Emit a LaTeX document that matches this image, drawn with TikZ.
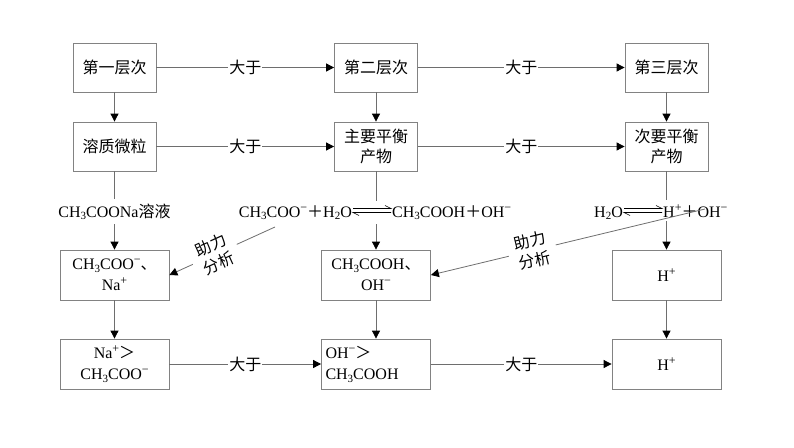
\documentclass[tikz,border=0pt]{standalone}
\usepackage{fontspec}
\setmainfont{Liberation Serif}
\newfontfamily\cjk{Noto Sans CJK SC}
\usetikzlibrary{arrows.meta}
\definecolor{lgray}{RGB}{110,110,110}
\definecolor{bgray}{RGB}{130,130,130}
\newcommand\ssup[1]{\raisebox{0.8ex}{\fontsize{12}{12}\selectfont #1}}
\newcommand\ssub[1]{\raisebox{-0.4ex}{\fontsize{11}{11}\selectfont #1}}
\newcommand\zh[1]{{\cjk #1}}
\newcommand\mns{\ssup{−}}
\newcommand\pls{\ssup{+}}
\begin{document}
\begin{tikzpicture}[x=1pt,y=-1pt,
  font=\fontsize{16}{21}\selectfont,
  line/.style={draw=lgray, line width=0.8pt},
  arr/.style={line, -{Triangle[length=8pt,width=8pt,color=black,fill=black]}},
  harp/.style={draw=black, line width=0.6pt},
  box/.style={draw=bgray, line width=0.8pt, minimum width=83pt, minimum height=49pt, align=center, inner sep=2pt},
  wbox/.style={box, minimum width=109pt, minimum height=50pt},
  lbl/.style={fill=white, inner xsep=1pt, inner ysep=1pt},
  lbltwo/.style={fill=white, align=center, inner xsep=8pt, inner ysep=0pt, font=\fontsize{16}{20}\selectfont},
  txt/.style={inner xsep=0pt, inner ysep=4pt},
]
\useasboundingbox (0,0) rectangle (794,447);

% row 1 and 2
\node[box] (a1) at (114.5,67.5) {\zh{第一层次}};
\node[box] (b1) at (376,67.5) {\zh{第二层次}};
\node[box] (c1) at (666.5,67.5) {\zh{第三层次}};
\node[box] (a2) at (114.5,146.5) {\zh{溶质微粒}};
\node[box] (b2) at (376,146.5) {\zh{主要平衡}\\[-1pt]\zh{产物}};
\node[box] (c2) at (666.5,146.5) {\zh{次要平衡}\\[-1pt]\zh{产物}};

% equation row
\node[txt, anchor=base] (a3) at (114.5,217) {CH\ssub{3}COONa\zh{溶液}};
\node[txt, anchor=base east] (b3l) at (352,217) {CH\ssub{3}COO\mns\zh{＋}H\ssub{2}O};
\node[txt, anchor=base west] (b3r) at (392,217) {CH\ssub{3}COOH\zh{＋}OH\mns};
\node[txt, anchor=base east] (c3l) at (623,217) {H\ssub{2}O};
\node[txt, anchor=base west] (c3r) at (663,217) {H\pls\zh{＋}OH\mns};

% equilibrium harpoons
\draw[harp] ([xshift=1pt,yshift=8.5pt]b3l.base east) -- ([xshift=-1pt,yshift=8.5pt]b3r.base west) -- ++(-6,-3);
\draw[harp] ([xshift=-1pt,yshift=4.5pt]b3r.base west) -- ([xshift=1pt,yshift=4.5pt]b3l.base east) -- ++(6,3);
\draw[harp] ([xshift=1pt,yshift=8.5pt]c3l.base east) -- ([xshift=-1pt,yshift=8.5pt]c3r.base west) -- ++(-6,-3);
\draw[harp] ([xshift=-1pt,yshift=4.5pt]c3r.base west) -- ([xshift=1pt,yshift=4.5pt]c3l.base east) -- ++(6,3);

% row 3 and 4
\node[wbox] (a4) at (114.5,275) {CH\ssub{3}COO\mns\zh{、}\\Na\pls};
\node[wbox] (b4) at (376,275) {CH\ssub{3}COOH\zh{、}\\OH\mns};
\node[wbox] (c4) at (666.5,275) {H\pls};
\node[wbox] (a5) at (114.5,364) {Na\pls\zh{＞}\\CH\ssub{3}COO\mns};
\node[wbox, align=left, text width=101pt] (b5) at (376,364) {OH\mns\zh{＞}\\CH\ssub{3}COOH};
\node[wbox] (c5) at (666.5,364) {H\pls};

% vertical connectors
\draw[arr] (a1) -- (a2);
\draw[arr] (b1) -- (b2);
\draw[arr] (c1) -- (c2);
\draw[line] (a2) -- (a3);
\draw[arr] (a3) -- (a4);
\draw[line] (b2.south) -- (b2.south |- b3l.north);
\draw[arr] (b2.south |- b3l.south) -- (b4);
\draw[line] (c2.south) -- (c2.south |- c3r.north);
\draw[arr] (c2.south |- c3r.south) -- (c4);
\draw[arr] (a4) -- (a5);
\draw[arr] (b4) -- (b5);
\draw[arr] (c4) -- (c5);

% horizontal connectors
\draw[arr] (a1) -- node[lbl]{\zh{大于}} (b1);
\draw[arr] (b1) -- node[lbl]{\zh{大于}} (c1);
\draw[arr] (a2) -- node[lbl]{\zh{大于}} (b2);
\draw[arr] (b2) -- node[lbl]{\zh{大于}} (c2);
\draw[arr] (a5) -- node[lbl]{\zh{大于}} (b5);
\draw[arr] (b5) -- node[lbl]{\zh{大于}} (c5);

% diagonal helper arrows
\coordinate (d1) at (275,227);
\coordinate (d2) at (705,209);
\draw[arr] (d1) -- node[lbltwo, pos=0.57, sloped]{\zh{助力}\\\zh{分析}} (a4.east);
\draw[arr] (d2) -- node[lbltwo, pos=0.63, sloped]{\zh{助力}\\\zh{分析}} (b4.east);
\end{tikzpicture}
\end{document}
